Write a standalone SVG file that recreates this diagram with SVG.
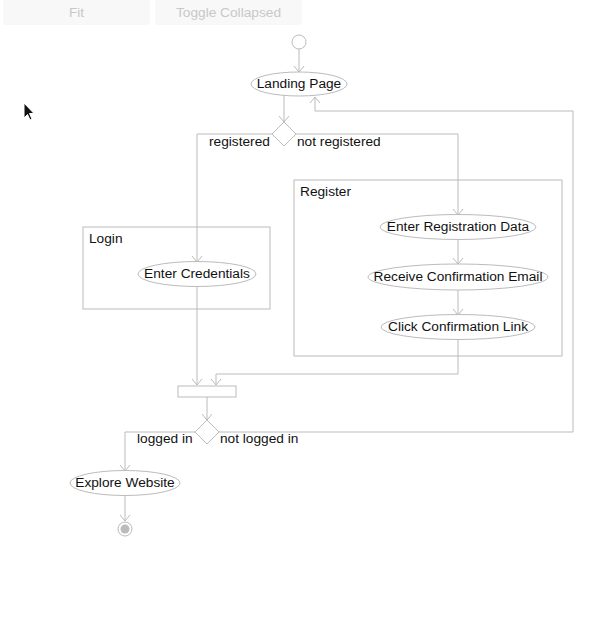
<svg xmlns="http://www.w3.org/2000/svg" width="613" height="629" viewBox="0 0 613 629">
<defs>
<marker id="arr" markerWidth="12" markerHeight="12" refX="10" refY="6" viewBox="0 0 12 12" orient="auto" markerUnits="userSpaceOnUse">
<path d="M4,1 L10,6 L4,11" fill="none" stroke="#bbb" stroke-width="1"/>
</marker>
<style>
text{font-family:"Liberation Sans",Arial,sans-serif;font-size:13.7px;fill:#111}
.btn{fill:#f8f8f8}
.bt{fill:#c8c8c8;text-anchor:middle}
.n{fill:#fff;stroke:#bbb;stroke-width:1}
.c{fill:none;stroke:#bbb;stroke-width:1}
.e{fill:none;stroke:#bbb;stroke-width:1;marker-end:url(#arr)}
.m{text-anchor:middle}
</style>
</defs>
<rect width="613" height="629" fill="#fff"/>
<g id="buttons">
<rect class="btn" x="3" y="0" width="147" height="25"/>
<text class="bt" x="76.5" y="17">Fit</text>
<rect class="btn" x="155" y="0" width="147" height="25"/>
<text class="bt" x="228.5" y="17">Toggle Collapsed</text>
</g>
<g id="groups">
<g id="register-group"><rect class="c" x="294" y="180" width="268" height="176"/><text x="300" y="196">Register</text></g>
<g id="login-group"><rect class="c" x="83" y="227" width="187" height="82"/><text x="89" y="243">Login</text></g>
</g>
<g id="connectors">
<path class="e" d="M299,49 V72"/>
<path class="e" d="M284,96 V122"/>
<path class="e" d="M573,432 V111 H315 V97"/>
<path class="e" d="M272,134 H197 V262"/>
<path class="e" d="M296,134 H458 V215"/>
<path class="e" d="M458,239 V264"/>
<path class="e" d="M458,290 V315"/>
<path class="e" d="M197,286 V385"/>
<path class="e" d="M458,339 V374 H216 V385"/>
<path class="e" d="M207,397 V420"/>
<path class="e" d="M195,432 H125 V471"/>
<path class="c" d="M219,432 H573"/>
<path class="e" d="M125,495 V521"/>
<text x="209" y="146">registered</text>
<text x="297" y="146">not registered</text>
<text x="137" y="443">logged in</text>
<text x="220" y="443">not logged in</text>
</g>
<g id="start"><circle class="n" cx="299" cy="42" r="7"/></g>
<g id="landing"><ellipse class="n" cx="299" cy="84" rx="48" ry="12"/><text class="m" x="299" y="88">Landing Page</text></g>
<g id="decision1"><path class="n" d="M284,122 L296,134 L284,146 L272,134 Z"/></g>
<g id="enter-credentials"><ellipse class="n" cx="197" cy="274" rx="59" ry="12.5"/><text class="m" x="197" y="278">Enter Credentials</text></g>
<g id="enter-registration"><ellipse class="n" cx="458" cy="227" rx="78" ry="12.5"/><text class="m" x="458" y="231">Enter Registration Data</text></g>
<g id="receive-email"><ellipse class="n" cx="458" cy="277" rx="90" ry="13"/><text class="m" x="458" y="281">Receive Confirmation Email</text></g>
<g id="click-link"><ellipse class="n" cx="458" cy="327" rx="77" ry="12.5"/><text class="m" x="458" y="331">Click Confirmation Link</text></g>
<g id="join"><rect class="n" x="178" y="386" width="58" height="11"/></g>
<g id="decision2"><path class="n" d="M207,420 L219,432 L207,444 L195,432 Z"/></g>
<g id="explore"><ellipse class="n" cx="125" cy="483" rx="55" ry="12.5"/><text class="m" x="125" y="487">Explore Website</text></g>
<g id="end"><circle class="n" cx="125" cy="529" r="7"/><circle cx="125" cy="529" r="4.5" fill="#bbb"/></g>
<g id="cursor"><path d="M24,103 L24,118 L27.5,114.5 L30,120 L32,119 L29.5,113.5 L34,113.5 Z" fill="#111" stroke="#fff" stroke-width="1"/></g>
</svg>
